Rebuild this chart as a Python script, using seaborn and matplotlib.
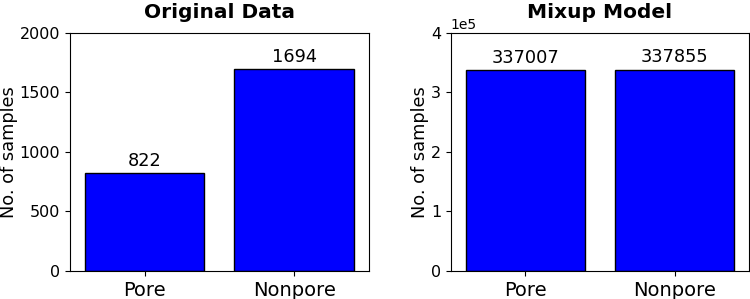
import matplotlib
matplotlib.use("Agg")
import matplotlib.pyplot as plt
import seaborn as sns
import pandas as pd

# Class counts before and after mixup
classes = ['Pore', 'Nonpore']
original_counts = [822, 1694]
mixup_counts = [337007, 337855]

fig = plt.figure(figsize=(7.5, 2.99), dpi=100)
ax1 = fig.add_axes([0.093, 0.094, 0.399, 0.796])
ax2 = fig.add_axes([0.601, 0.094, 0.398, 0.796])

panels = [
    (ax1, original_counts, 'Original Data', (0, 2000)),
    (ax2, mixup_counts, 'Mixup Model', (0, 400000)),
]

for ax, counts, title, ylim in panels:
    df = pd.DataFrame({'cls': classes, 'n': counts})
    sns.barplot(data=df, x='cls', y='n', ax=ax, color='blue', saturation=1,
                edgecolor='black', linewidth=1, width=0.8)
    ax.set_ylim(*ylim)
    ax.set_title(title, fontsize=14.5, fontweight='bold', pad=11)
    ax.set_xlabel('')
    ax.set_ylabel('No. of samples', fontsize=12.8, labelpad=1)
    ax.tick_params(axis='x', labelsize=14)
    ax.tick_params(axis='y', labelsize=11.5)
    for i, v in enumerate(counts):
        ax.text(i, v + (ylim[1] * 0.015), str(v), ha='center', va='bottom', fontsize=12.8)

ax1.set_yticks([0, 500, 1000, 1500, 2000])
ax2.set_yticks([0, 100000, 200000, 300000, 400000])
ax2.ticklabel_format(axis='y', style='sci', scilimits=(0, 0))

plt.savefig('out.png', dpi=100)
